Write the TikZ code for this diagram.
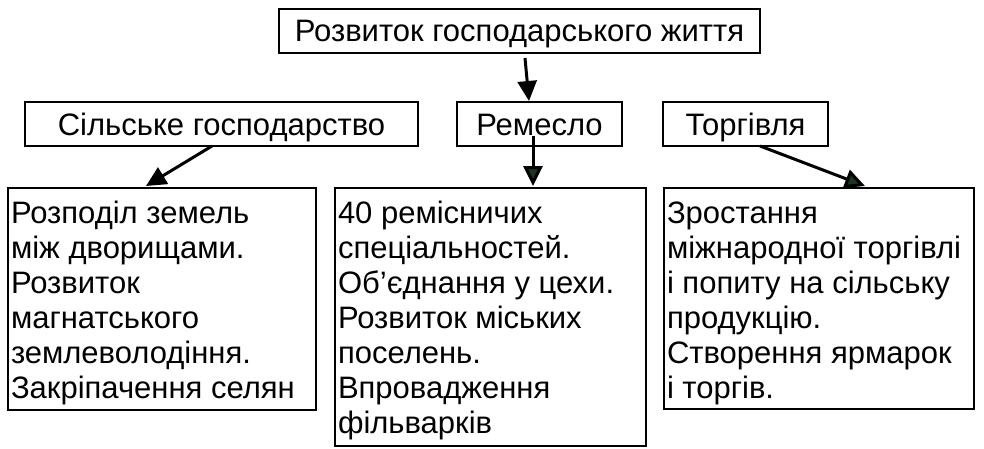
\documentclass[tikz,border=0pt]{standalone}
\usepackage{fontspec}
\setmainfont{Liberation Sans}
\usetikzlibrary{arrows.meta}
\definecolor{headgreen}{RGB}{28,52,34}
\newcommand{\boxtext}[3]{\parbox[t][#2][t]{#1}{\raggedright\strut #3}}
\tikzset{
  titlebox/.style={draw, line width=2pt, rectangle, inner sep=0pt, text height=22pt, text depth=0pt,
    font=\fontsize{31}{35}\selectfont},
  textbox/.style={draw, line width=2pt, rectangle, anchor=north west, inner xsep=3pt, inner ysep=10.5pt,
    font=\fontsize{31}{35}\selectfont},
  conn/.style={line width=3pt, -{Triangle[length=20pt,width=19pt]}},
  connG/.style={line width=3pt, -{Triangle[length=20pt,width=19pt,fill=headgreen]}},
}
\begin{document}
\begin{tikzpicture}[x=1pt,y=-1pt]
\useasboundingbox (0,0) rectangle (984,448);
% top
\node[titlebox, minimum width=481pt, minimum height=44pt] (top) at (519.5,30.5) {Розвиток господарського життя};
% second row
\node[titlebox, minimum width=393pt, minimum height=44pt] (agr) at (221.5,124) {Сільське господарство};
\node[titlebox, minimum width=165pt, minimum height=44pt] (craft) at (539.5,124) {Ремесло};
\node[titlebox, minimum width=165pt, minimum height=44pt] (trade) at (745.5,124) {Торгівля};
% bottom
\node[textbox] (b1) at (7,187) {\boxtext{302pt}{201pt}{Розподіл земель\\між дворищами.\\Розвиток\\магнатського\\землеволодіння.\\Закріпачення селян}};
\node[textbox] (b2) at (334,187) {\boxtext{305pt}{237pt}{40 ремісничих\\спеціальностей.\\Об’єднання у цехи.\\Розвиток міських\\поселень.\\Впровадження\\фільварків}};
\node[textbox] (b3) at (663,187) {\boxtext{304pt}{200pt}{Зростання\\міжнародної торгівлі\\і попиту на сільську\\продукцію.\\Створення ярмарок\\і торгів.}};
% coordinates for arrow ends
\coordinate (t1) at (525,58);
\coordinate (t2) at (529,101);
\coordinate (a1) at (212,146);
\coordinate (a2) at (146,186);
\coordinate (c1) at (533,136);
\coordinate (c2) at (533,186);
\coordinate (r1) at (760,146);
\coordinate (r2) at (865,186);
\draw[conn] (t1) -- (t2);
\draw[conn] (a1) -- (a2);
\draw[connG] (c1) -- (c2);
\draw[connG] (r1) -- (r2);
\end{tikzpicture}
\end{document}
